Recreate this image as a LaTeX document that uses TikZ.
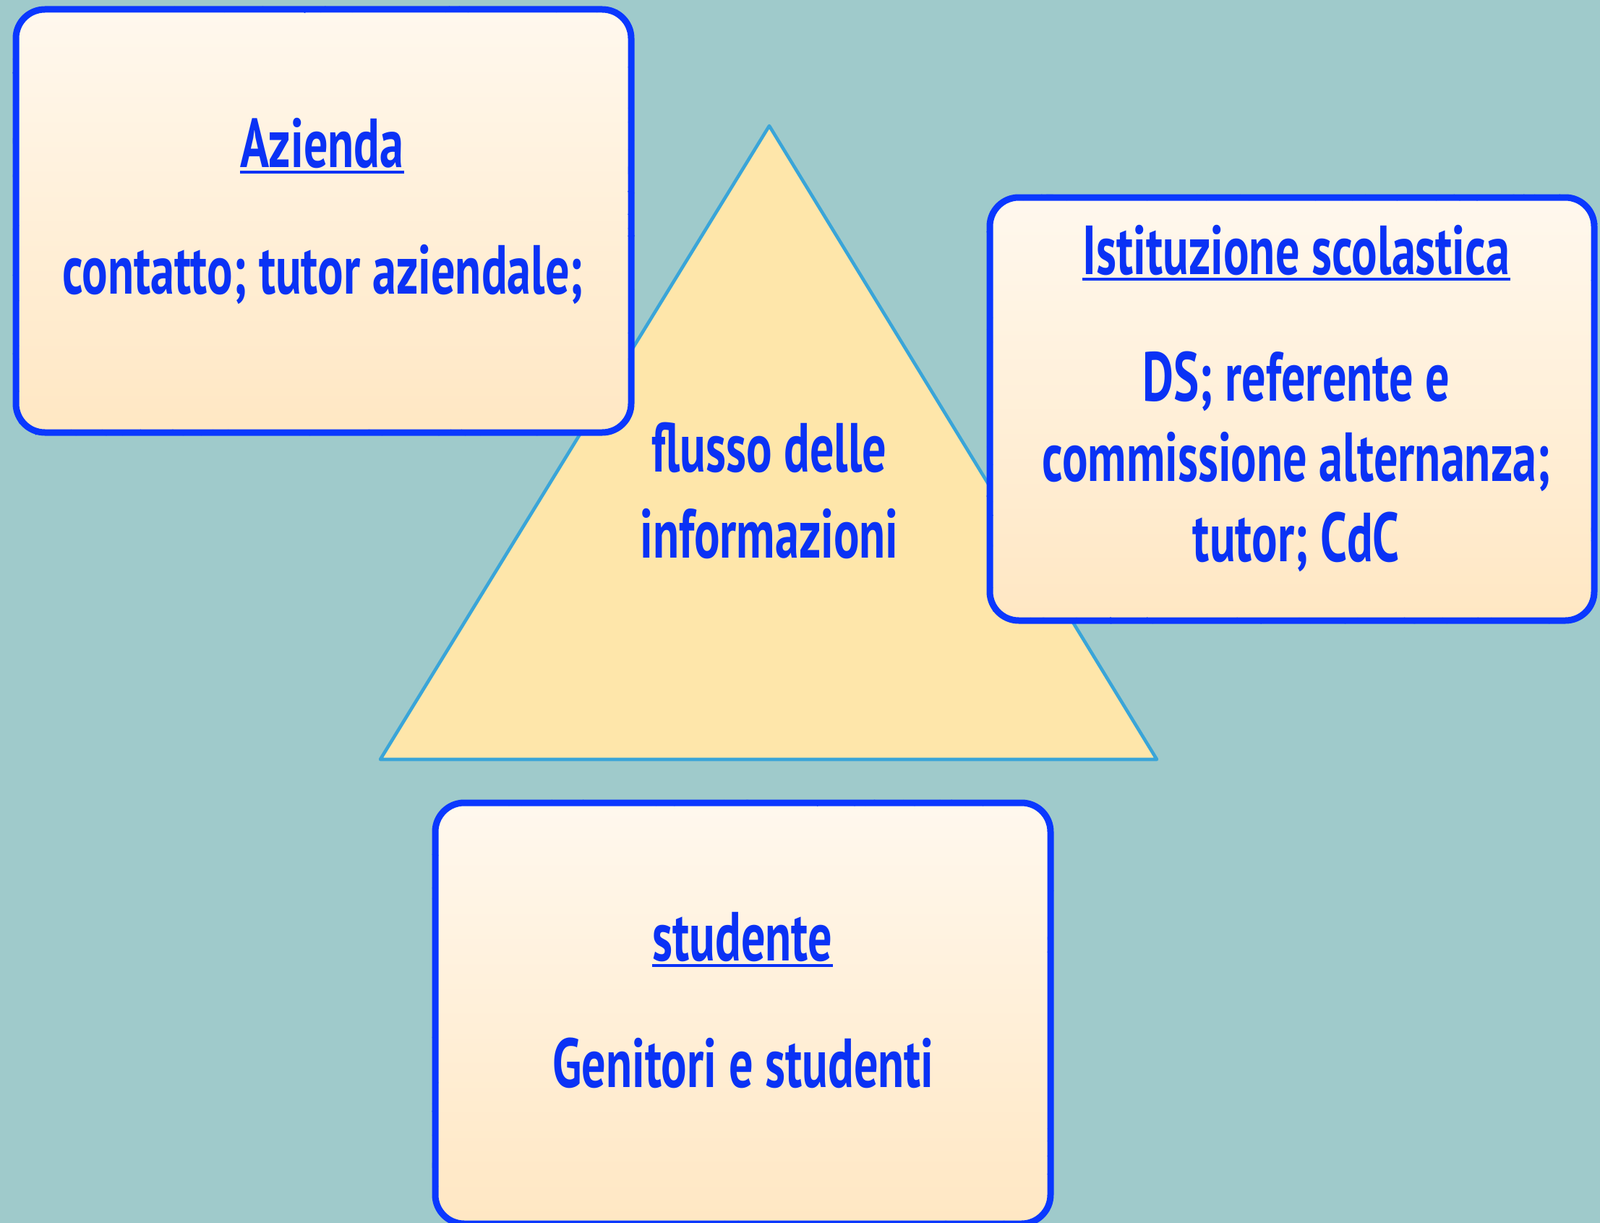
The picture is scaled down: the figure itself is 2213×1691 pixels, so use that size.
\documentclass[tikz,border=0pt]{standalone}
\usepackage{fontspec}
\usetikzlibrary{decorations.pathmorphing}
\newfontfamily\dinf{PT Sans}[FakeStretch=0.69]
\definecolor{bgc}{HTML}{9FCACB}
\definecolor{txtc}{HTML}{0A32F5}
\definecolor{brdc}{HTML}{0A38FF}
\definecolor{trifill}{HTML}{FEE6AA}
\definecolor{triline}{HTML}{3AA5D8}
\definecolor{boxtop}{HTML}{FFF8EE}
\definecolor{boxbot}{HTML}{FFE7C3}
\tikzset{
  x=0.5pt, y=-0.5pt,
  box/.style={rectangle, rounded corners=20pt, line width=4.5pt, draw=brdc,
    top color=boxtop, bottom color=boxbot, inner sep=0pt, outer sep=0pt,
    postaction={draw=brdc, line width=1.6pt, sharp corners, decorate,
      decoration={random steps, segment length=2.5pt, amplitude=1.3pt}}},
  lbl/.style={text=txtc, inner sep=0pt, anchor=base,
    font=\dinf\bfseries\fontsize{48}{48}\selectfont},
  uline/.style={draw=txtc, line width=2pt}
}
\begin{document}
\begin{tikzpicture}
\useasboundingbox (0,0) rectangle (2213,1691);
\fill[bgc] (0,0) rectangle (2213,1691);
% triangle
\coordinate (apex) at (1064,174);
\coordinate (bl) at (526,1050);
\coordinate (br) at (1600,1050);
\draw[fill=trifill, draw=triline, line width=2.3pt, line join=round] (apex) -- (bl) -- (br) -- cycle;
\node[lbl] (f1) at (1064,652) {flusso delle};
\node[lbl] (f2) at (1064,771) {informazioni};
% boxes
\node[box, minimum width=425.5pt, minimum height=292.5pt] (az) at (447.5,305.5) {};
\node[box, minimum width=418pt, minimum height=292.5pt] (is) at (1787,565.5) {};
\node[box, minimum width=425.5pt, minimum height=291pt] (st) at (1027.5,1401) {};
% Azienda texts
\node[lbl] (azt) at (445.5,231) {Azienda};
\draw[uline] ([yshift=-3.5pt]azt.base west) -- ([yshift=-3.5pt]azt.base east);
\node[lbl] (azb) at (446.5,406) {contatto; tutor aziendale;};
% Istituzione texts
\node[lbl] (ist) at (1793,379) {Istituzione scolastica};
\draw[uline] ([yshift=-3.5pt]ist.base west) -- ([yshift=-3.5pt]ist.base east);
\node[lbl] (is1) at (1793,554) {DS; referente e};
\node[lbl] (is2) at (1793,665) {commissione alternanza;};
\node[lbl] (is3) at (1793,776) {tutor; CdC};
% studente texts
\node[lbl] (stt) at (1027,1328) {studente};
\draw[uline] ([yshift=-3.5pt]stt.base west) -- ([yshift=-3.5pt]stt.base east);
\node[lbl] (stb) at (1028,1503) {Genitori e studenti};
\end{tikzpicture}
\end{document}
